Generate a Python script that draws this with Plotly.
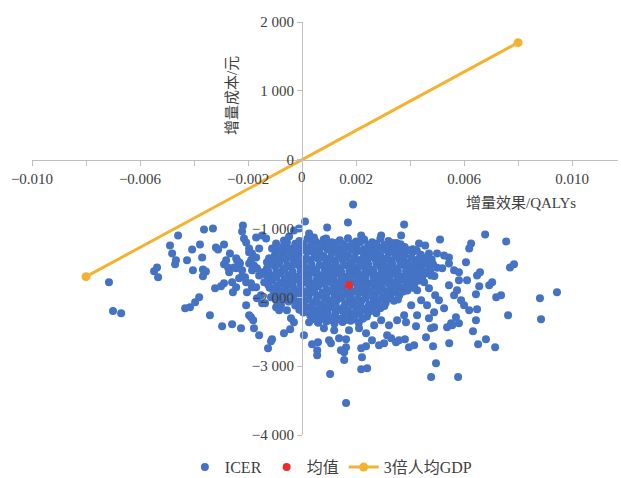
import plotly.graph_objects as go

# ---- data ----
# dense core of the ICER cloud (rows read off the solid blob)
core_x = [
    -0.0001, 0.0002, 0.0005, 0.0008, 0.0011, 0.0014, 0.0017, 0.0020, 0.0023, 0.0026, 0.0029, 0.0032, 0.0035,
    -0.0007, -0.0004, -0.0001, 0.0002, 0.0005, 0.0008, 0.0011, 0.0014, 0.0017, 0.0020, 0.0023, 0.0026, 0.0029, 0.0032, 0.0035, 0.0038, 0.0041,
    -0.0010, -0.0007, -0.0004, -0.0001, 0.0002, 0.0005, 0.0008, 0.0011, 0.0014, 0.0017, 0.0020, 0.0023, 0.0026, 0.0029, 0.0032, 0.0035, 0.0038, 0.0041, 0.0044,
    -0.0012, -0.0009, -0.0006, -0.0003, 0.0000, 0.0003, 0.0006, 0.0009, 0.0012, 0.0015, 0.0018, 0.0021, 0.0024, 0.0027, 0.0030, 0.0033, 0.0036, 0.0039, 0.0042, 0.0045, 0.0048,
    -0.0013, -0.0010, -0.0007, -0.0004, -0.0001, 0.0002, 0.0005, 0.0008, 0.0011, 0.0014, 0.0017, 0.0020, 0.0023, 0.0026, 0.0029, 0.0032, 0.0035, 0.0038, 0.0041, 0.0044, 0.0047, 0.0050,
    -0.0014, -0.0011, -0.0008, -0.0005, -0.0002, 0.0001, 0.0004, 0.0007, 0.0010, 0.0013, 0.0016, 0.0019, 0.0022, 0.0025, 0.0028, 0.0031, 0.0034, 0.0037, 0.0040, 0.0043, 0.0046, 0.0049,
    -0.0014, -0.0011, -0.0008, -0.0005, -0.0002, 0.0001, 0.0004, 0.0007, 0.0010, 0.0013, 0.0016, 0.0019, 0.0022, 0.0025, 0.0028, 0.0031, 0.0034, 0.0037, 0.0040, 0.0043,
    -0.0012, -0.0009, -0.0006, -0.0003, 0.0000, 0.0003, 0.0006, 0.0009, 0.0012, 0.0015, 0.0018, 0.0021, 0.0024, 0.0027, 0.0030, 0.0033, 0.0036, 0.0039, 0.0041,
    -0.0009, -0.0006, -0.0003, 0.0000, 0.0003, 0.0006, 0.0009, 0.0012, 0.0015, 0.0018, 0.0021, 0.0024, 0.0027, 0.0030, 0.0033, 0.0036,
    -0.0005, -0.0002, 0.0001, 0.0004, 0.0007, 0.0010, 0.0013, 0.0016, 0.0019, 0.0022, 0.0025, 0.0028, 0.0031, 0.0034,
    -0.0001, 0.0002, 0.0005, 0.0008, 0.0011, 0.0014, 0.0017, 0.0020, 0.0023, 0.0026, 0.0029,
    0.0003, 0.0006, 0.0009, 0.0012, 0.0015, 0.0018, 0.0021, 0.0024,
    0.0006, 0.0009, 0.0012, 0.0015, 0.0018, 0.0021,
]
core_y = [
    -1180, -1150, -1190, -1160, -1200, -1170, -1140, -1190, -1160, -1200, -1150, -1180, -1210,
    -1260, -1290, -1250, -1280, -1300, -1260, -1240, -1290, -1270, -1250, -1300, -1260, -1280, -1240, -1290, -1270, -1300,
    -1380, -1350, -1390, -1360, -1340, -1380, -1400, -1350, -1370, -1390, -1340, -1380, -1360, -1400, -1350, -1370, -1390, -1340, -1380,
    -1460, -1490, -1450, -1480, -1500, -1460, -1440, -1490, -1470, -1450, -1500, -1460, -1480, -1440, -1490, -1470, -1450, -1500, -1460, -1480, -1450,
    -1580, -1550, -1590, -1560, -1540, -1580, -1600, -1550, -1570, -1590, -1540, -1580, -1560, -1600, -1550, -1570, -1590, -1540, -1580, -1560, -1600, -1570,
    -1660, -1690, -1650, -1680, -1700, -1660, -1640, -1690, -1670, -1650, -1700, -1660, -1680, -1640, -1690, -1670, -1650, -1700, -1660, -1680, -1650, -1690,
    -1780, -1750, -1790, -1760, -1740, -1780, -1800, -1750, -1770, -1790, -1740, -1780, -1760, -1800, -1750, -1770, -1790, -1740, -1780, -1760,
    -1860, -1890, -1850, -1880, -1900, -1860, -1840, -1890, -1870, -1850, -1900, -1860, -1880, -1840, -1890, -1870, -1850, -1900, -1860,
    -1980, -1950, -1990, -1960, -1940, -1980, -2000, -1950, -1970, -1990, -1940, -1980, -1960, -2000, -1950, -1970,
    -2060, -2090, -2050, -2080, -2100, -2060, -2040, -2090, -2070, -2050, -2100, -2060, -2080, -2050,
    -2180, -2150, -2190, -2160, -2140, -2180, -2200, -2150, -2170, -2190, -2160,
    -2260, -2290, -2250, -2280, -2300, -2260, -2240, -2280,
    -2370, -2350, -2380, -2360, -2340, -2370,
]

# in-between rows of the solid core
core2_x = [
    -0.00025, 0.00005, 0.00035, 0.00065, 0.00095, 0.00125, 0.00155, 0.00185, 0.00215, 0.00245, 0.00275, 0.00305, 0.00335, 0.00365,
    -0.00085, -0.00055, -0.00025, 0.00005, 0.00035, 0.00065, 0.00095, 0.00125, 0.00155, 0.00185, 0.00215, 0.00245, 0.00275, 0.00305, 0.00335, 0.00365, 0.00395, 0.00425,
    -0.00105, -0.00075, -0.00045, -0.00015, 0.00015, 0.00045, 0.00075, 0.00105, 0.00135, 0.00165, 0.00195, 0.00225, 0.00255, 0.00285, 0.00315, 0.00345, 0.00375, 0.00405, 0.00435, 0.00465,
    -0.00115, -0.00085, -0.00055, -0.00025, 0.00005, 0.00035, 0.00065, 0.00095, 0.00125, 0.00155, 0.00185, 0.00215, 0.00245, 0.00275, 0.00305, 0.00335, 0.00365, 0.00395, 0.00425, 0.00455, 0.00485,
    -0.00125, -0.00095, -0.00065, -0.00035, -0.00005, 0.00025, 0.00055, 0.00085, 0.00115, 0.00145, 0.00175, 0.00205, 0.00235, 0.00265, 0.00295, 0.00325, 0.00355, 0.00385, 0.00415, 0.00445, 0.00475,
    -0.00125, -0.00095, -0.00065, -0.00035, -0.00005, 0.00025, 0.00055, 0.00085, 0.00115, 0.00145, 0.00175, 0.00205, 0.00235, 0.00265, 0.00295, 0.00325, 0.00355, 0.00385, 0.00415, 0.00445,
    -0.00125, -0.00095, -0.00065, -0.00035, -0.00005, 0.00025, 0.00055, 0.00085, 0.00115, 0.00145, 0.00175, 0.00205, 0.00235, 0.00265, 0.00295, 0.00325, 0.00355, 0.00385, 0.00415,
    -0.00105, -0.00075, -0.00045, -0.00015, 0.00015, 0.00045, 0.00075, 0.00105, 0.00135, 0.00165, 0.00195, 0.00225, 0.00255, 0.00285, 0.00315, 0.00345, 0.00375,
    -0.00065, -0.00035, -0.00005, 0.00025, 0.00055, 0.00085, 0.00115, 0.00145, 0.00175, 0.00205, 0.00235, 0.00265, 0.00295, 0.00325, 0.00355,
    -0.00025, 0.00005, 0.00035, 0.00065, 0.00095, 0.00125, 0.00155, 0.00185, 0.00215, 0.00245, 0.00275, 0.00305,
    0.00005, 0.00035, 0.00065, 0.00095, 0.00125, 0.00155, 0.00185, 0.00215, 0.00245, 0.00275,
    0.00045, 0.00075, 0.00105, 0.00135, 0.00165, 0.00195, 0.00225,
]
core2_y = [
    -1220, -1230, -1210, -1225, -1240, -1210, -1230, -1220, -1205, -1235, -1220, -1240, -1210, -1230,
    -1320, -1310, -1330, -1315, -1325, -1340, -1305, -1320, -1330, -1310, -1325, -1320, -1335, -1310, -1320, -1330, -1315, -1325,
    -1420, -1430, -1410, -1425, -1435, -1415, -1420, -1430, -1410, -1425, -1420, -1435, -1415, -1420, -1430, -1410, -1425, -1420, -1430, -1415,
    -1520, -1510, -1530, -1515, -1525, -1520, -1535, -1510, -1520, -1530, -1515, -1525, -1520, -1510, -1530, -1520, -1515, -1525, -1530, -1510, -1520,
    -1620, -1630, -1610, -1625, -1615, -1620, -1635, -1610, -1620, -1630, -1615, -1625, -1620, -1610, -1630, -1620, -1615, -1625, -1630, -1610, -1620,
    -1720, -1710, -1730, -1715, -1725, -1720, -1735, -1710, -1720, -1730, -1715, -1725, -1720, -1710, -1730, -1720, -1715, -1725, -1730, -1710,
    -1820, -1830, -1810, -1825, -1815, -1820, -1835, -1810, -1820, -1830, -1815, -1825, -1820, -1810, -1830, -1820, -1815, -1825, -1830,
    -1920, -1910, -1930, -1915, -1925, -1920, -1935, -1910, -1920, -1930, -1915, -1925, -1920, -1910, -1930, -1920, -1915,
    -2020, -2030, -2010, -2025, -2015, -2020, -2035, -2010, -2020, -2030, -2015, -2025, -2020, -2010, -2030,
    -2120, -2110, -2130, -2115, -2125, -2120, -2135, -2110, -2120, -2130, -2115, -2125,
    -2220, -2230, -2210, -2225, -2215, -2220, -2235, -2210, -2220, -2230,
    -2320, -2310, -2330, -2315, -2325, -2320, -2310,
]

# scattered ICER points left of the core
left_x = [
    -0.00715, -0.0070, -0.0067, -0.00548, -0.00537, -0.00533, -0.00489, -0.00481, -0.00459, -0.00467,
    -0.0047, -0.00426, -0.00407, -0.00404, -0.00378, -0.0037, -0.00367, -0.00356, -0.00367, -0.00363,
    -0.0033, -0.00433, -0.00415, -0.00396, -0.00381, -0.00341, -0.00322, -0.0030, -0.00289, -0.00319,
    -0.00311, -0.00289, -0.00267, -0.00296, -0.00259, -0.00226, -0.00256, -0.00219, -0.00222, -0.00215,
    -0.00207, -0.00281, -0.00289, -0.00274, -0.0027, -0.00241, -0.0023, -0.00244, -0.00222, -0.00207,
    -0.00189, -0.00181, -0.00178, -0.00196, -0.00185, -0.0017, -0.00211, -0.00207, -0.00185, -0.00204,
    -0.0017, -0.00148, -0.00133, -0.00159, -0.00096, -0.00111, -0.00085, -0.00196, -0.00189, -0.00244,
    -0.00233, -0.00252, -0.00222, -0.00233, -0.00196, -0.00178, -0.00185, -0.00167, -0.00159, -0.00148,
    -0.0013, -0.00122, -0.00259, -0.00244, -0.00189, -0.0017, -0.00152, -0.00167, -0.00137, -0.00115,
    -0.00096, -0.00078, -0.00148, -0.00096, -0.00085, -0.00056, -0.00196, -0.00159, -0.00111, -0.00126,
    -0.00115, -0.00067, -0.00044, -0.00041, -0.0003, -0.00067, -0.00048, -0.0003, -0.00011, -0.00056,
]
left_y = [
    -1780, -2200, -2230, -1620, -1565, -1710, -1246, -1362, -1101, -1463,
    -1521, -1463, -1304, -1608, -1232, -1420, -1594, -1623, -1695, -1014,
    -1000, -2159, -2145, -2072, -2000, -2260, -1869, -1840, -1797, -1275,
    -1304, -1232, -1362, -2420, -2391, -2449, -1927, -956, -1043, -1145,
    -1203, -1463, -1521, -1565, -1637, -1463, -1507, -1579, -1608, -2116,
    -2289, -2333, -2449, -1290, -1362, -1420, -1710, -1782, -1855, -1927,
    -1130, -1101, -1145, -1290, -1217, -1290, -1319, -1348, -1463, -1434,
    -1492, -1565, -1695, -1724, -1507, -1536, -1608, -1579, -1681, -1637,
    -1490, -1434, -1782, -1855, -1797, -1855, -1971, -2014, -2087, -2000,
    -2043, -2116, -2087, -2145, -2188, -2188, -2260, -2550, -2608, -2739,
    -2637, -2521, -2463, -2304, -2362, -1174, -1116, -1029, -1000, -1200,
]

# scattered ICER points above, below and right of the core
right_x = [
    0.00011, 0.00026, 0.00044, 0.00093, 0.00089, 0.0017, 0.00189, 0.00378, 0.00219, 0.00293, 0.00367,
    0.00007, 0.00026, 0.00059, 0.00037, 0.00059, 0.00056, 0.00056, 0.0010, 0.00107, 0.00137,
    0.00163, 0.00156, 0.00156, 0.00163, 0.00237, 0.00259, 0.00285, 0.00304, 0.00315, 0.0033,
    0.00348, 0.00359, 0.00381, 0.00396, 0.00415, 0.00219, 0.00237, 0.00222, 0.00144, 0.00081,
    0.00119, 0.00174, 0.00211, 0.00267, 0.00293, 0.00104, 0.00219, 0.00241, 0.00163, 0.00478,
    0.00578, 0.00496, 0.00485, 0.00545, 0.00459, 0.00633, 0.00681, 0.00652, 0.00715, 0.00763,
    0.00885, 0.00881, 0.00944, 0.00644, 0.00719, 0.00737, 0.00644, 0.00678, 0.00756, 0.00626,
    0.00619, 0.0077, 0.00785, 0.00704, 0.00693, 0.00648, 0.00619, 0.0057, 0.00537, 0.00556,
    0.00489, 0.00385, 0.00422, 0.0047, 0.00478, 0.00552, 0.00581,
    0.00433, 0.00456, 0.00511, 0.0047, 0.0050, 0.00544, 0.00607, 0.00519, 0.00544, 0.00581,
    0.00611, 0.00648, 0.00656, 0.00526, 0.00563, 0.00659, 0.00581, 0.00415, 0.00441, 0.00463,
    0.00478, 0.00452, 0.00426, 0.0047, 0.00493, 0.00441, 0.00463, 0.00507, 0.00526, 0.00489,
    0.00404, 0.00426, 0.00378, 0.00352, 0.00322, 0.00563, 0.00589, 0.00544, 0.00574, 0.0060,
]
right_y = [
    -898, -1072, -1130, -985, -1145, -913, -652, -942, -1101, -1101, -1101,
    -2550, -2362, -2362, -2681, -2652, -2768, -2840, -2623, -2666, -2594,
    -2608, -2797, -2912, -2724, -2521, -2623, -2695, -2666, -2550, -2594,
    -2652, -2623, -2608, -2724, -2695, -2739, -2710, -2869, -2768, -2449,
    -2478, -2478, -2449, -2405, -2333, -3115, -3043, -3029, -3536, -3159,
    -3159, -2956, -2710, -2666, -2579, -2492, -2608, -2681, -2724, -2260,
    -2318, -2014, -1927, -1956, -2000, -1971, -2333, -1087, -1188, -1217,
    -1290, -1565, -1521, -1782, -1826, -2174, -2188, -2289, -2434, -2405,
    -2434, -2362, -2420, -2304, -2449, -2376, -2376,
    -1217, -1246, -1159, -1362, -1362, -1420, -1492, -1579, -1507, -1637,
    -1753, -1681, -1840, -1391, -1608, -1637, -1753, -1536, -1608, -1492,
    -1681, -1782, -1898, -1869, -1971, -2043, -2116, -2043, -2159, -2217,
    -2116, -2260, -2260, -2333, -2405, -1971, -2043, -1826, -1898, -2116,
]

mean_x = [0.00174]
mean_y = [-1826]

wtp_x = [-0.008, 0.008]
wtp_y = [-1700, 1700]

x_title = "增量效果/QALYs"
y_title = "增量成本/元"
names = ["ICER", "均值", "3倍人均GDP"]

# ---- figure ----
FONT = "Liberation Serif, 'Noto Sans CJK SC', serif"
TXT = "#404040"
AXC = "#BFBFBF"

icer_x = core_x + core2_x + left_x + right_x
icer_y = core_y + core2_y + left_y + right_y

fig = go.Figure()
fig.add_trace(go.Scatter(x=icer_x, y=icer_y, mode="markers", name=names[0],
                         marker=dict(color="#4472C4", size=8, line=dict(width=0))))
fig.add_trace(go.Scatter(x=mean_x, y=mean_y, mode="markers", name=names[1],
                         marker=dict(color="#EE2A2A", size=8, line=dict(width=0))))
fig.add_trace(go.Scatter(x=wtp_x, y=wtp_y, mode="lines+markers", name=names[2],
                         line=dict(color="#F5B230", width=3),
                         marker=dict(color="#F5B230", size=9)))

xr = [-0.010, 0.0117]
yr = [-4000, 2000]
ypos = (0 - xr[0]) / (xr[1] - xr[0])
xpos = (0 - yr[0]) / (yr[1] - yr[0])

fig.update_layout(
    width=621, height=478,
    margin=dict(l=32, r=3, t=22, b=43, autoexpand=False),
    paper_bgcolor="white", plot_bgcolor="white",
    separators=". ",
    font=dict(family=FONT, size=15, color=TXT),
    showlegend=True,
    legend=dict(orientation="h", x=0.51, xanchor="center", y=-0.078, yanchor="middle",
                font=dict(family=FONT, size=16, color=TXT), itemwidth=30,
                traceorder="normal"),
    xaxis=dict(range=xr, anchor="free", position=xpos, showgrid=False, zeroline=False,
               automargin=False,
               showline=True, linecolor=AXC, linewidth=1,
               tick0=-0.010, dtick=0.004, tickformat=".3f",
               ticks="outside", ticklen=5, tickcolor=AXC,
               minor=dict(dtick=0.002, tick0=-0.010, ticks="outside", ticklen=5, tickcolor=AXC),
               tickfont=dict(family=FONT, size=15, color=TXT)),
    yaxis=dict(range=yr, anchor="free", position=ypos, showgrid=False, zeroline=False,
               automargin=False,
               showline=True, linecolor=AXC, linewidth=1,
               tick0=0, dtick=1000, tickformat=",.0f",
               ticks="outside", ticklen=5, tickcolor=AXC,
               tickfont=dict(family=FONT, size=15, color=TXT)),
    annotations=[
        dict(text=x_title, xref="paper", yref="paper", x=0.834, y=0.562,
             xanchor="center", yanchor="middle",
             showarrow=False, font=dict(family=FONT, size=15, color=TXT)),
        dict(text=y_title, xref="paper", yref="paper", x=0.341, y=0.823, textangle=-90,
             xanchor="center", yanchor="middle",
             showarrow=False, font=dict(family=FONT, size=15, color=TXT)),
        dict(text="0", xref="x", yref="paper", x=0, y=0.625,
             xanchor="center", yanchor="middle",
             showarrow=False, font=dict(family=FONT, size=15, color=TXT)),
    ],
)

fig.write_html("out.html", config={"displayModeBar": False},
               post_script="document.body.style.margin='0';")
